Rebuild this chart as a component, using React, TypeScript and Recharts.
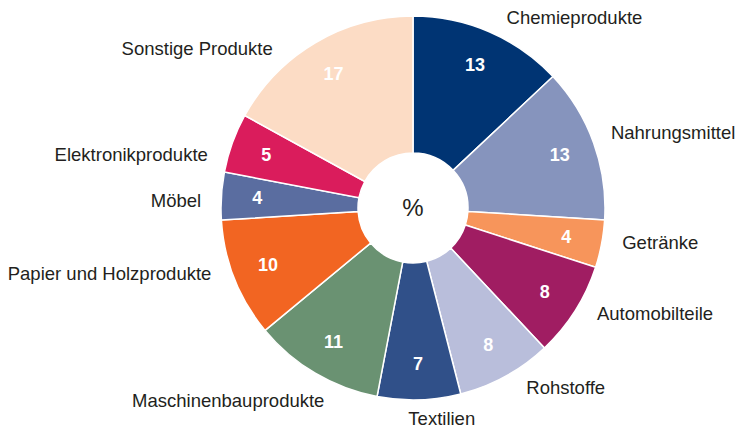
import { Cell, Pie, PieChart } from "recharts";

const categories = [
  "Chemieprodukte",
  "Nahrungsmittel",
  "Getränke",
  "Automobilteile",
  "Rohstoffe",
  "Textilien",
  "Maschinenbauprodukte",
  "Papier und Holzprodukte",
  "Möbel",
  "Elektronikprodukte",
  "Sonstige Produkte",
];
const shares = [13, 13, 4, 8, 8, 7, 11, 10, 4, 5, 17];
const colors = [
  "#003473",
  "#8694bd",
  "#f7955b",
  "#a01d62",
  "#b9bedb",
  "#305089",
  "#6a9272",
  "#f26522",
  "#5a6da0",
  "#da1c5c",
  "#fcdcc5",
];
// small clockwise turn (degrees) of each outer label off its slice middle
const labelTurn = [2.8, -1.2, -1.5, -2.6, -3.5, -6, -5.9, 3.6, -1.7, -5.2, -10.8];

const data = categories.map((name, i) => ({ name, value: shares[i] }));

const RAD = Math.PI / 180;
const FONT = "'Liberation Sans', Arial, sans-serif";

const renderLabel = (props: any) => {
  const { cx, cy, midAngle, name, value, index } = props;
  const cos = Math.cos(-midAngle * RAD);
  const sin = Math.sin(-midAngle * RAD);
  // value inside the ring
  const vx = cx + 156 * cos;
  const vy = cy + 156 * sin;
  // name outside
  const a = (midAngle - labelTurn[index]) * RAD;
  const lc = Math.cos(-a);
  const nx = cx + 212 * lc;
  const ny = cy + 212 * Math.sin(-a);
  const anchor = Math.abs(lc) < 0.15 && Math.sin(-a) > 0 ? "middle" : lc > 0 ? "start" : "end";
  return (
    <g>
      <text x={vx} y={vy} fill="#fff" fontSize={18} fontWeight="bold" fontFamily={FONT}
        textAnchor="middle" dominantBaseline="central">
        {value}
      </text>
      <text x={nx} y={ny} fill="#231f20" fontSize={18.5} fontFamily={FONT}
        textAnchor={anchor} dominantBaseline="central">
        {name}
      </text>
    </g>
  );
};

export default function App() {
  return (
    <div style={{ position: "absolute", left: 0, top: 0, width: 737, height: 431, background: "#fff" }}>
      <PieChart width={737} height={431} margin={{ top: 0, right: 0, bottom: 0, left: 0 }}>
        <Pie
          data={data}
          dataKey="value"
          nameKey="name"
          cx={413}
          cy={208}
          innerRadius={55}
          outerRadius={192}
          startAngle={90}
          endAngle={-270}
          stroke="#fff"
          strokeWidth={1.5}
          label={renderLabel}
          labelLine={false}
          isAnimationActive={false}
        >
          {data.map((d, i) => (
            <Cell key={d.name} fill={colors[i]} />
          ))}
        </Pie>
        <text x={413} y={207} fontSize={24} fontFamily={FONT} fill="#231f20"
          textAnchor="middle" dominantBaseline="central">
          %
        </text>
      </PieChart>
    </div>
  );
}
